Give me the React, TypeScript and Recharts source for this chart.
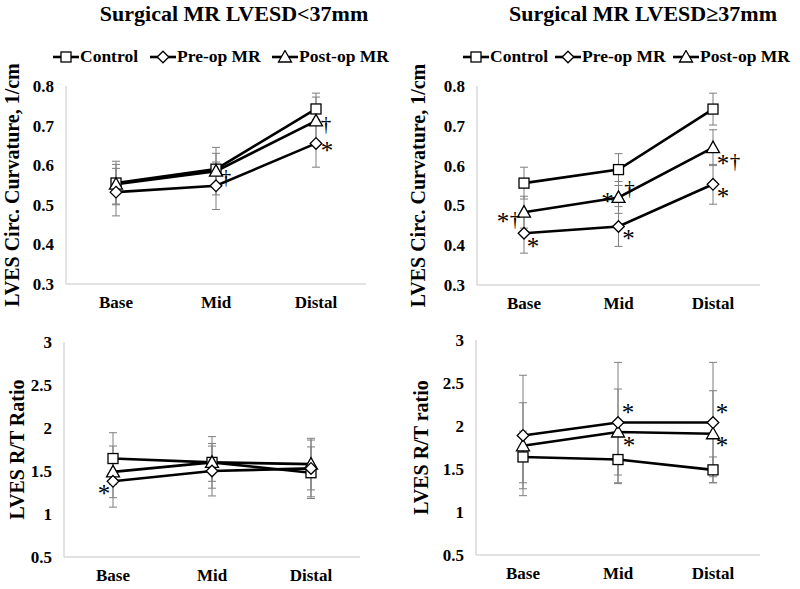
import React from "react";
import { LineChart, Line, XAxis, YAxis, ErrorBar, LabelList } from "recharts";

const regions = ["Base", "Mid", "Distal"];

// Surgical MR LVESD<37mm – circumferential curvature (1/cm)
const smallCurvControl = [0.555, 0.59, 0.742];
const smallCurvControlSd = [0.055, 0.04, 0.04];
const smallCurvPre = [0.532, 0.548, 0.655];
const smallCurvPreSd = [0.06, 0.06, 0.06];
const smallCurvPost = [0.552, 0.585, 0.712];
const smallCurvPostSd = [0.05, 0.06, 0.06];
const smallCurvPreNotes = ["", "", "*"];
const smallCurvPostNotes = ["", "†", "†"];

// Surgical MR LVESD≥37mm – circumferential curvature (1/cm)
const largeCurvControl = [0.556, 0.59, 0.742];
const largeCurvControlSd = [0.04, 0.04, 0.04];
const largeCurvPre = [0.43, 0.447, 0.553];
const largeCurvPreSd = [0.05, 0.05, 0.05];
const largeCurvPost = [0.483, 0.52, 0.645];
const largeCurvPostSd = [0.04, 0.04, 0.045];
const largeCurvPreNotes = ["*", "*", "*"];
const largeCurvPostNotes = ["* †", "* †", "* †"];

// Surgical MR LVESD<37mm – R/T ratio
const smallRtControl = [1.645, 1.6, 1.48];
const smallRtControlSd = [0.3, 0.3, 0.3];
const smallRtPre = [1.38, 1.5, 1.53];
const smallRtPreSd = [0.3, 0.29, 0.33];
const smallRtPost = [1.49, 1.6, 1.58];
const smallRtPostSd = [0.3, 0.22, 0.3];
const smallRtPreNotes = ["*", "", ""];
const smallRtPostNotes = ["", "", ""];

// Surgical MR LVESD≥37mm – R/T ratio
const largeRtControl = [1.64, 1.61, 1.49];
const largeRtControlSd = [0.3, 0.28, 0.15];
const largeRtPre = [1.89, 2.04, 2.04];
const largeRtPreSd = [0.7, 0.7, 0.7];
const largeRtPost = [1.77, 1.93, 1.91];
const largeRtPostSd = [0.5, 0.5, 0.5];
const largeRtPreNotes = ["", "*", "*"];
const largeRtPostNotes = ["", "*", "*"];

const curvTicks = [0.3, 0.4, 0.5, 0.6, 0.7, 0.8];
const rtTicks = [0.5, 1, 1.5, 2, 2.5, 3];

const legendItems = ["Control", "Pre-op MR", "Post-op MR"];

const FONT = '"Liberation Serif", "Times New Roman", serif';

type Row = {
  region: string;
  control: number;
  controlErr: number;
  pre: number;
  preErr: number;
  post: number;
  postErr: number;
  preNote: string;
  postNote: string;
};

const buildRows = (
  ctrl: number[], ctrlSd: number[],
  pre: number[], preSd: number[],
  post: number[], postSd: number[],
  preNotes: string[], postNotes: string[]
): Row[] =>
  regions.map((region, i) => ({
    region,
    control: ctrl[i],
    controlErr: ctrlSd[i],
    pre: pre[i],
    preErr: preSd[i],
    post: post[i],
    postErr: postSd[i],
    preNote: preNotes[i],
    postNote: postNotes[i],
  }));

type MarkerKind = "square" | "diamond" | "triangle";
const legendKinds: MarkerKind[] = ["square", "diamond", "triangle"];

const Marker = ({ kind, cx, cy }: { kind: MarkerKind; cx: number; cy: number }) => {
  const common = { fill: "#fff", stroke: "#000", strokeWidth: 1.3 };
  if (kind === "square") {
    return <rect x={cx - 5} y={cy - 5} width={10} height={10} {...common} />;
  }
  if (kind === "diamond") {
    const r = 5.8;
    return (
      <polygon points={`${cx},${cy - r} ${cx + r},${cy} ${cx},${cy + r} ${cx - r},${cy}`} {...common} />
    );
  }
  return (
    <polygon points={`${cx},${cy - 6.5} ${cx + 6.5},${cy + 5} ${cx - 6.5},${cy + 5}`} {...common} />
  );
};

// offsets (dx, dy) from the point to the centre of each note token, per point index
type NotePos = [number, number][][];

const noteRenderer = (pos: NotePos) => (p: any) => {
  const { x, y, value, index } = p;
  if (!value) return null;
  const tokens = String(value).split(" ");
  return (
    <g>
      {tokens.map((t, i) => {
        const [dx, dy] = pos[index]?.[i] ?? [10, 0];
        const star = t === "*";
        return (
          <text
            key={i}
            x={x + dx}
            y={y + dy + (star ? 12 : 6)}
            textAnchor="middle"
            fontFamily={FONT}
            fontSize={star ? 25 : 21}
            style={{ fill: "#000" }}
          >
            {t}
          </text>
        );
      })}
    </g>
  );
};

const yTitle = (text: string, dx: number) => (p: any) => {
  const vb = p.viewBox ?? {};
  const x = (vb.x ?? 0) + dx;
  const y = (vb.y ?? 0) + (vb.height ?? 0) / 2;
  return (
    <text
      x={x}
      y={y}
      transform={`rotate(-90, ${x}, ${y})`}
      textAnchor="middle"
      dominantBaseline="central"
      fontFamily={FONT}
      fontWeight="bold"
      fontSize={20}
      style={{ fill: "#000" }}
    >
      {text}
    </text>
  );
};

type PanelProps = {
  left: number;
  top: number;
  width: number;
  height: number;
  rows: Row[];
  domain: [number, number];
  ticks: number[];
  fmt: (v: number) => string;
  title: string;
  titleDx: number;
  axisWidth: number;
  xPad: number;
  margin: { top: number; right: number; bottom: number; left: number };
  preNotePos: NotePos;
  postNotePos: NotePos;
};

const tickStyle = { fontFamily: FONT, fontWeight: "bold", fontSize: 17, fill: "#000" } as const;

const Panel = (props: PanelProps) => {
  const { left, top, width, height, rows, domain, ticks, fmt, title, titleDx, axisWidth, margin, xPad } = props;
  return (
    <div style={{ position: "absolute", left, top }}>
      <LineChart width={width} height={height} data={rows} margin={margin}>
        <XAxis
          dataKey="region"
          axisLine={{ stroke: "#d9d9d9", strokeWidth: 1.5 }}
          tickLine={false}
          tick={tickStyle}
          tickMargin={6}
          height={30}
          padding={{ left: xPad, right: xPad }}
        />
        <YAxis
          type="number"
          domain={domain}
          ticks={ticks}
          tickFormatter={fmt}
          axisLine={{ stroke: "#d9d9d9", strokeWidth: 1.5 }}
          tickLine={false}
          tick={tickStyle}
          tickMargin={6}
          width={axisWidth}
          label={yTitle(title, titleDx)}
        />
        <Line
          dataKey="control"
          stroke="#000"
          strokeWidth={2.6}
          isAnimationActive={false}
          dot={(p: any) => <Marker key={`c${p.index}`} kind="square" cx={p.cx} cy={p.cy} />}
        >
          <ErrorBar dataKey="controlErr" direction="y" width={4} stroke="#7f7f7f" strokeWidth={1} />
        </Line>
        <Line
          dataKey="post"
          stroke="#000"
          strokeWidth={2.6}
          isAnimationActive={false}
          dot={(p: any) => <Marker key={`t${p.index}`} kind="triangle" cx={p.cx} cy={p.cy} />}
        >
          <ErrorBar dataKey="postErr" direction="y" width={4} stroke="#7f7f7f" strokeWidth={1} />
          <LabelList dataKey="postNote" content={noteRenderer(props.postNotePos)} />
        </Line>
        <Line
          dataKey="pre"
          stroke="#000"
          strokeWidth={2.6}
          isAnimationActive={false}
          dot={(p: any) => <Marker key={`d${p.index}`} kind="diamond" cx={p.cx} cy={p.cy} />}
        >
          <ErrorBar dataKey="preErr" direction="y" width={4} stroke="#7f7f7f" strokeWidth={1} />
          <LabelList dataKey="preNote" content={noteRenderer(props.preNotePos)} />
        </Line>
      </LineChart>
    </div>
  );
};

const LegendIcon = ({ kind }: { kind: MarkerKind }) => (
  <svg width={26} height={14} style={{ display: "block" }}>
    <line x1={0} y1={7} x2={26} y2={7} stroke="#000" strokeWidth={2.6} />
    <Marker kind={kind} cx={13} cy={7} />
  </svg>
);

const Legend = ({ starts }: { starts: number[] }) => (
  <>
    {legendItems.map((label, i) => (
      <div
        key={label}
        style={{
          position: "absolute",
          left: starts[i],
          top: 46,
          display: "flex",
          alignItems: "center",
          gap: 1,
          fontFamily: FONT,
          fontWeight: "bold",
          fontSize: 17.5,
          whiteSpace: "nowrap",
        }}
      >
        <LegendIcon kind={legendKinds[i]} />
        <span>{label}</span>
      </div>
    ))}
  </>
);

const Title = ({ cx, text }: { cx: number; text: string }) => (
  <div
    style={{
      position: "absolute",
      left: cx - 200,
      width: 400,
      top: 1,
      textAlign: "center",
      fontFamily: FONT,
      fontWeight: "bold",
      fontSize: 22,
    }}
  >
    {text}
  </div>
);

const fmtCurv = (v: number) => v.toFixed(1);
const fmtRt = (v: number) => String(v);

export default function App() {
  return (
    <div
      style={{
        position: "absolute",
        left: 0,
        top: 0,
        width: 800,
        height: 589,
        background: "#fff",
        overflow: "hidden",
      }}
    >
      <Title cx={234} text="Surgical MR LVESD<37mm" />
      <Title cx={643} text="Surgical MR LVESD≥37mm" />
      <Legend starts={[53, 150, 272]} />
      <Legend starts={[463, 555, 673]} />

      <Panel
        left={0}
        top={0}
        width={400}
        height={320}
        rows={buildRows(smallCurvControl, smallCurvControlSd, smallCurvPre, smallCurvPreSd, smallCurvPost, smallCurvPostSd, smallCurvPreNotes, smallCurvPostNotes)}
        domain={[0.3, 0.8]}
        ticks={curvTicks}
        fmt={fmtCurv}
        title="LVES Circ. Curvature, 1/cm"
        titleDx={12}
        axisWidth={66}
        xPad={50}
        margin={{ top: 86, right: 34, bottom: 6, left: 0 }}
        preNotePos={[[], [], [[11, 4]]]}
        postNotePos={[[], [[10, 7]], [[10, 4]]]}
      />
      <Panel
        left={400}
        top={0}
        width={400}
        height={320}
        rows={buildRows(largeCurvControl, largeCurvControlSd, largeCurvPre, largeCurvPreSd, largeCurvPost, largeCurvPostSd, largeCurvPreNotes, largeCurvPostNotes)}
        domain={[0.3, 0.8]}
        ticks={curvTicks}
        fmt={fmtCurv}
        title="LVES Circ. Curvature, 1/cm"
        titleDx={18}
        axisWidth={77}
        xPad={47}
        margin={{ top: 86, right: 40, bottom: 5, left: 0 }}
        preNotePos={[[[9, 10]], [[10, 9]], [[10, 9]]]}
        postNotePos={[
          [[-21, 6], [-9, 8]],
          [[-11, 1], [11, -8]],
          [[10, 12], [22, 14]],
        ]}
      />
      <Panel
        left={0}
        top={310}
        width={400}
        height={279}
        rows={buildRows(smallRtControl, smallRtControlSd, smallRtPre, smallRtPreSd, smallRtPost, smallRtPostSd, smallRtPreNotes, smallRtPostNotes)}
        domain={[0.5, 3]}
        ticks={rtTicks}
        fmt={fmtRt}
        title="LVES R/T Ratio"
        titleDx={17}
        axisWidth={64}
        xPad={49}
        margin={{ top: 32, right: 40, bottom: 2, left: 0 }}
        preNotePos={[[[-9, 9]], [], []]}
        postNotePos={[[], [], []]}
      />
      <Panel
        left={400}
        top={310}
        width={400}
        height={279}
        rows={buildRows(largeRtControl, largeRtControlSd, largeRtPre, largeRtPreSd, largeRtPost, largeRtPostSd, largeRtPreNotes, largeRtPostNotes)}
        domain={[0.5, 3]}
        ticks={rtTicks}
        fmt={fmtRt}
        title="LVES R/T ratio"
        titleDx={21}
        axisWidth={76}
        xPad={47}
        margin={{ top: 30, right: 40, bottom: 4, left: 0 }}
        preNotePos={[[], [[10, -14]], [[9, -14]]]}
        postNotePos={[[], [[11, 10]], [[9, 8]]]}
      />
    </div>
  );
}
